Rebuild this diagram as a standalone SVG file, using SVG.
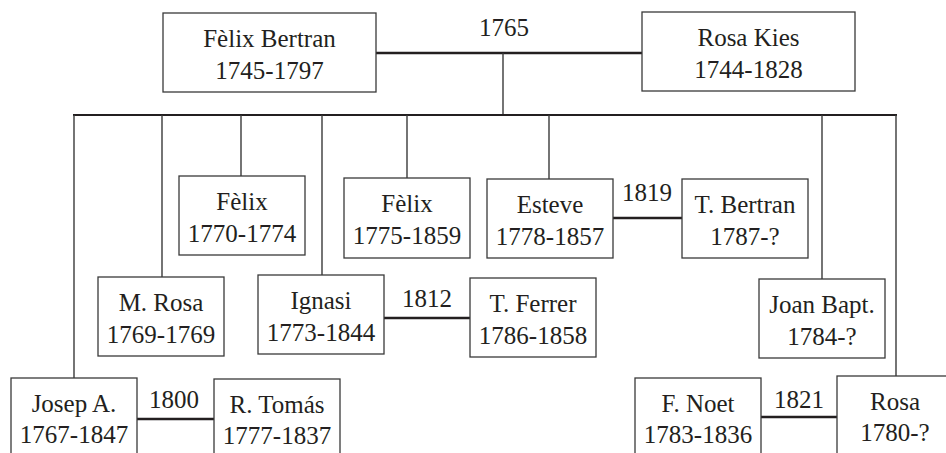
<svg xmlns="http://www.w3.org/2000/svg" width="946" height="453" viewBox="0 0 946 453">
<style>
text{font-family:"Liberation Serif","Times New Roman",Tinos,"DejaVu Serif",serif;font-size:25px;fill:#231f20;text-anchor:middle}
.box{fill:#fff;stroke:#3a3a3a;stroke-width:1.3}
.v{stroke:#3a3a3a;stroke-width:1.4;fill:none}
.m{stroke:#231f20;stroke-width:2.6;fill:none}
.h{stroke:#231f20;stroke-width:2.2;fill:none}
</style>
<rect width="946" height="453" fill="#fff"/>
<g id="connectors">
<line class="m" x1="376" y1="53" x2="642" y2="53"/>
<line class="v" x1="503" y1="53" x2="503" y2="115"/>
<line class="h" x1="73" y1="115" x2="897" y2="115"/>
<line class="v" x1="74" y1="115" x2="74" y2="378"/>
<line class="v" x1="162" y1="115" x2="162" y2="277"/>
<line class="v" x1="241" y1="115" x2="241" y2="176"/>
<line class="v" x1="322" y1="115" x2="322" y2="275"/>
<line class="v" x1="407" y1="115" x2="407" y2="178"/>
<line class="v" x1="549" y1="115" x2="549" y2="179"/>
<line class="v" x1="822" y1="115" x2="822" y2="279"/>
<line class="v" x1="896" y1="115" x2="896" y2="376"/>
<line class="m" x1="613" y1="218" x2="682" y2="218"/>
<line class="m" x1="384" y1="318" x2="470" y2="318"/>
<line class="m" x1="137" y1="419" x2="214" y2="419"/>
<line class="m" x1="761" y1="417" x2="837" y2="417"/>
<text x="504" y="36">1765</text>
<text x="647" y="201">1819</text>
<text x="427" y="307">1812</text>
<text x="174" y="408">1800</text>
<text x="799" y="408">1821</text>
</g>
<g id="felix-bertran"><rect class="box" x="163" y="13" width="213" height="79"/><text x="269.5" y="47">Fèlix Bertran</text><text x="269.5" y="79">1745-1797</text></g>
<g id="rosa-kies"><rect class="box" x="642" y="12" width="213" height="79"/><text x="748.5" y="46">Rosa Kies</text><text x="748.5" y="78">1744-1828</text></g>
<g id="felix-1770"><rect class="box" x="179" y="176" width="126" height="79"/><text x="242" y="210">Fèlix</text><text x="242" y="242">1770-1774</text></g>
<g id="felix-1775"><rect class="box" x="344" y="178" width="126" height="80"/><text x="407" y="212">Fèlix</text><text x="407" y="244">1775-1859</text></g>
<g id="esteve"><rect class="box" x="487" y="179" width="126" height="79"/><text x="550" y="213">Esteve</text><text x="550" y="245">1778-1857</text></g>
<g id="t-bertran"><rect class="box" x="682" y="179" width="126" height="79"/><text x="745" y="213">T. Bertran</text><text x="745" y="245">1787-?</text></g>
<g id="m-rosa"><rect class="box" x="98" y="277" width="126" height="79"/><text x="161" y="311">M. Rosa</text><text x="161" y="343">1769-1769</text></g>
<g id="ignasi"><rect class="box" x="258" y="275" width="126" height="79"/><text x="321" y="309">Ignasi</text><text x="321" y="341">1773-1844</text></g>
<g id="t-ferrer"><rect class="box" x="470" y="278" width="126" height="79"/><text x="533" y="312">T. Ferrer</text><text x="533" y="344">1786-1858</text></g>
<g id="joan-bapt"><rect class="box" x="759" y="279" width="126" height="79"/><text x="822" y="313">Joan Bapt.</text><text x="822" y="345">1784-?</text></g>
<g id="josep-a"><rect class="box" x="11" y="378" width="126" height="90"/><text x="74" y="412">Josep A.</text><text x="74" y="443">1767-1847</text></g>
<g id="r-tomas"><rect class="box" x="214" y="379" width="126" height="90"/><text x="277" y="413">R. Tomás</text><text x="277" y="444">1777-1837</text></g>
<g id="f-noet"><rect class="box" x="635" y="378" width="126" height="90"/><text x="698" y="412">F. Noet</text><text x="698" y="443">1783-1836</text></g>
<g id="rosa"><rect class="box" x="837" y="376" width="126" height="90"/><text x="895" y="410">Rosa</text><text x="895" y="441">1780-?</text></g>
</svg>
